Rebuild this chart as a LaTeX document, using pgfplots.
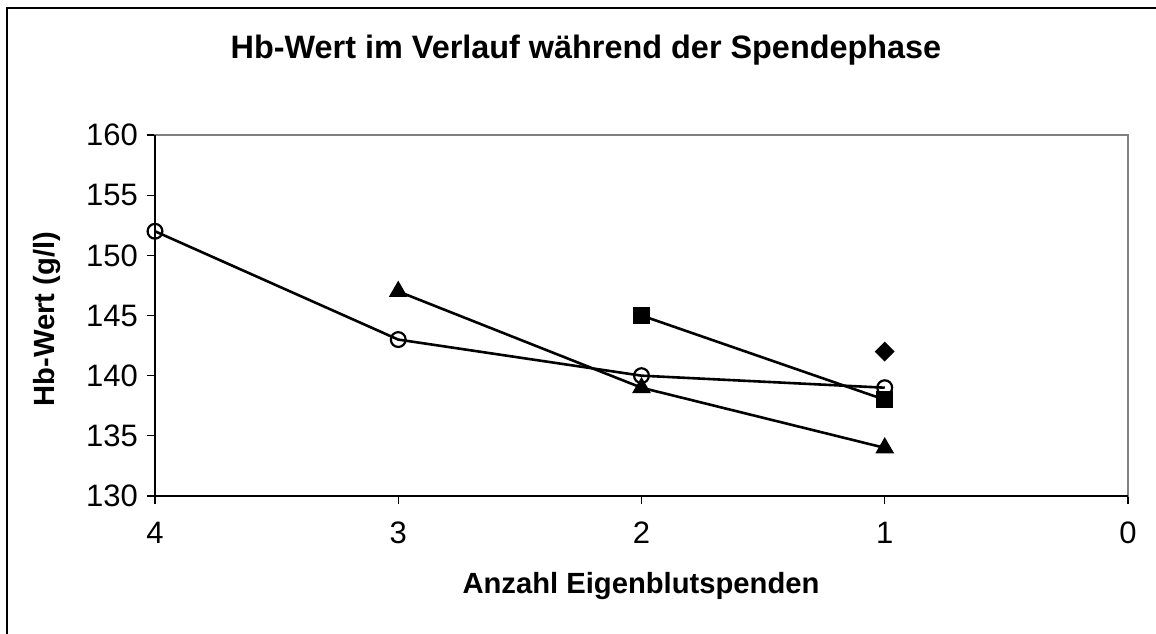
\documentclass[border=0pt]{standalone}
\usepackage{fontspec}
\setmainfont{Liberation Sans}
\usepackage{pgfplots}
\pgfplotsset{compat=1.18}
\begin{document}
\begin{tikzpicture}[x=0.5pt,y=0.5pt]
\useasboundingbox (0,0) rectangle (1156,633);
\draw[line width=1pt] (7,-30) -- (7,625) -- (1200,625);
\begin{axis}[at={(77.5pt,68.5pt)}, anchor=south west, scale only axis,
  width=486.5pt, height=180.5pt,
  x dir=reverse, xmin=0, xmax=4, ymin=130, ymax=160,
  xtick={0,1,2,3,4}, ytick={130,135,...,160},
  axis line style={draw=gray, line width=1.1pt},
  tick align=outside, major tick length=4pt,
  tick style={black, line width=0.6pt},
  xtick pos=bottom, ytick pos=left,
  ticklabel style={font=\fontsize{15.5}{18}\selectfont},
  xticklabel style={yshift=-5.5pt},
  yticklabel style={xshift=-1pt},
  /pgf/number format/assume math mode=true,
  clip=false]
\draw[black, line width=0.8pt] (axis description cs:0,1) -- (axis description cs:0,0) -- (axis description cs:1,0);
\addplot[black, line width=1.3pt, mark=square*, mark size=3.9pt, mark options={solid, line width=0.6pt}] coordinates {(2,145) (1,138)};
\addplot[black, line width=1.3pt, mark=triangle*, mark size=4.8pt, mark options={solid, line width=0.6pt}] coordinates {(3,147) (2,139) (1,134)};
\addplot[black, only marks, mark=square*, mark size=3.2pt, mark options={rotate=45, line width=0.6pt}] coordinates {(1,142)};
\addplot[black, line width=1.3pt, mark=o, mark size=3.7pt, mark options={solid, fill=white, line width=1.1pt}] coordinates {(4,152) (3,143) (2,140) (1,139)};
\end{axis}
\node[font=\fontsize{16.2}{19}\selectfont\bfseries] at (586,583) {Hb-Wert im Verlauf während der Spendephase};
\node[font=\fontsize{14.6}{17}\selectfont\bfseries] at (641,47) {Anzahl Eigenblutspenden};
\node[font=\fontsize{14.6}{17}\selectfont\bfseries, rotate=90] at (47,314) {Hb-Wert (g/l)};
\end{tikzpicture}
\end{document}
